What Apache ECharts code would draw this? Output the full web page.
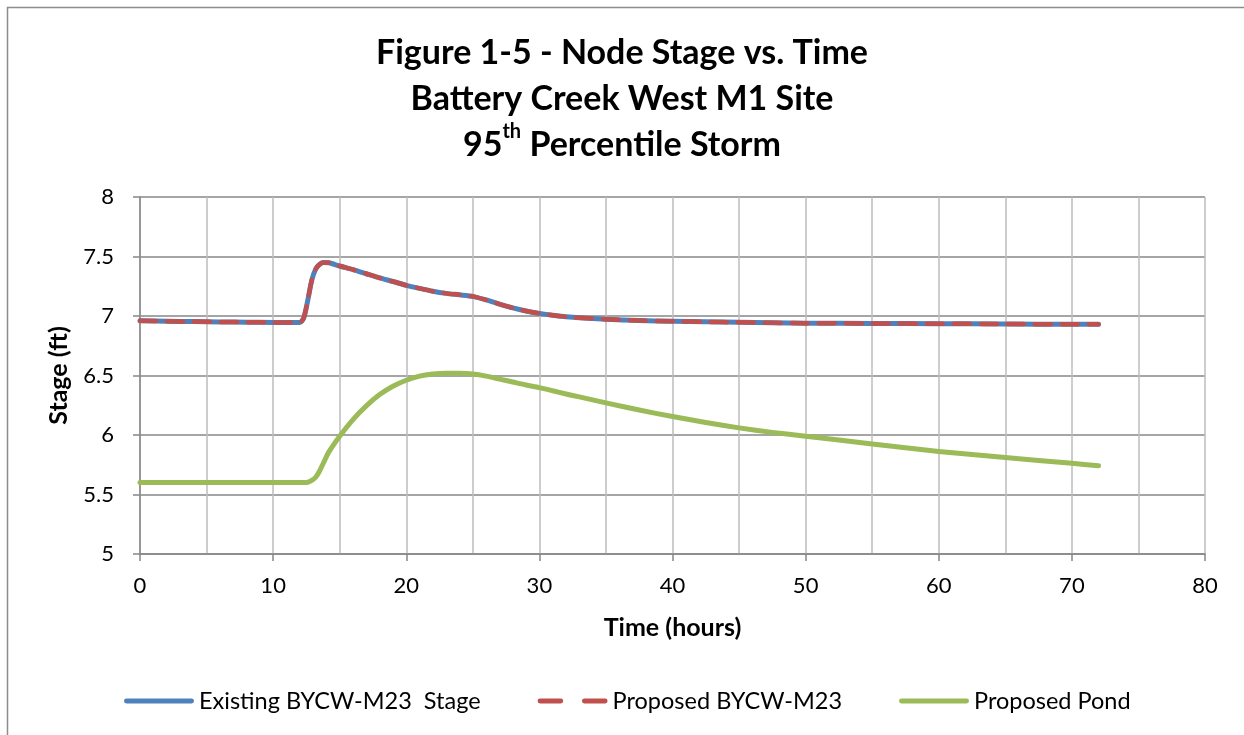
<!DOCTYPE html>
<html>
<head>
<meta charset="utf-8">
<script src="https://cdn.jsdelivr.net/npm/echarts@6/dist/echarts.min.js"></script>
<style>
html,body{margin:0;padding:0;background:#fff;}
#main{width:1244px;height:735px;}
</style>
</head>
<body>
<div id="main"></div>
<script>
// ---- data ----
const timeHours = [0, 2, 4, 6, 8, 10, 11, 12, 12.3, 12.6, 12.9, 13.2, 13.5, 13.8, 14.2, 15, 16, 17, 18, 19, 20, 21, 22, 23, 24, 25, 26, 27, 28, 29, 30, 31, 32, 33, 35, 37.5, 40, 42.5, 45, 47.5, 50, 55, 60, 65, 70, 72];
const existingStage = [6.960, 6.956, 6.953, 6.950, 6.948, 6.946, 6.945, 6.945, 6.985, 7.130, 7.300, 7.395, 7.435, 7.450, 7.447, 7.420, 7.390, 7.355, 7.320, 7.290, 7.258, 7.232, 7.208, 7.190, 7.178, 7.165, 7.135, 7.100, 7.068, 7.042, 7.022, 7.006, 6.994, 6.985, 6.972, 6.962, 6.956, 6.951, 6.947, 6.943, 6.940, 6.937, 6.935, 6.933, 6.930, 6.930];
const proposedStage = [6.960, 6.956, 6.953, 6.950, 6.948, 6.946, 6.945, 6.945, 6.985, 7.130, 7.300, 7.395, 7.435, 7.450, 7.447, 7.420, 7.390, 7.355, 7.320, 7.290, 7.258, 7.232, 7.208, 7.190, 7.178, 7.165, 7.135, 7.100, 7.068, 7.042, 7.022, 7.006, 6.994, 6.985, 6.972, 6.962, 6.956, 6.951, 6.947, 6.943, 6.940, 6.937, 6.935, 6.933, 6.930, 6.930];
const pondStage = [5.600, 5.600, 5.600, 5.600, 5.600, 5.600, 5.600, 5.600, 5.600, 5.603, 5.618, 5.645, 5.700, 5.770, 5.860, 5.990, 6.130, 6.245, 6.340, 6.410, 6.460, 6.495, 6.512, 6.518, 6.518, 6.512, 6.495, 6.470, 6.445, 6.420, 6.398, 6.372, 6.345, 6.320, 6.270, 6.210, 6.155, 6.105, 6.060, 6.022, 5.990, 5.925, 5.862, 5.810, 5.762, 5.742];
const seriesNames = ['Existing BYCW-M23  Stage', 'Proposed BYCW-M23', 'Proposed Pond'];
const titleLines = ['Figure 1-5 - Node Stage vs. Time', 'Battery Creek West M1 Site', '95', 'th', ' Percentile Storm'];

const pairs = (ys) => timeHours.map((t, i) => [t, ys[i]]);
const FONT = 'Lato';
const SOLID_ICON = 'path://M2,0H68A2.5,2.5 0 0 1 68,5H2A2.5,2.5 0 0 1 2,0Z';
const DASH_ICON = 'path://M2,0H23A2.5,2.5 0 0 1 23,5H2A2.5,2.5 0 0 1 2,0Z M47,0H68A2.5,2.5 0 0 1 68,5H47A2.5,2.5 0 0 1 47,0Z';

const chart = echarts.init(document.getElementById('main'));
chart.setOption({
  backgroundColor: '#ffffff',
  animation: false,
  textStyle: { fontFamily: FONT, color: '#000' },
  graphic: [{
    type: 'rect', shape: { x: 7.5, y: 7.5, width: 1400, height: 900 },
    style: { fill: 'none', stroke: '#8c8c8c', lineWidth: 1.5 }, silent: true
  }],
  title: {
    left: 'center', top: 25,
    text: '{a|' + titleLines[0] + '}\n{a|' + titleLines[1] + '}\n{a|' + titleLines[2] + '}{s|' + titleLines[3] + '}{a|' + titleLines[4] + '}',
    textStyle: {
      rich: {
        a: { fontFamily: FONT, fontSize: 34, fontWeight: 'bold', color: '#000', lineHeight: 46 },
        s: { fontFamily: FONT, fontSize: 20, fontWeight: 'bold', color: '#000', lineHeight: 46, verticalAlign: 'top', padding: [0, 0, 14, 0] }
      }
    }
  },
  grid: { left: 140, right: 39, top: 197, bottom: 181, containLabel: false },
  legend: {
    top: 684, left: 119,
    itemWidth: 70, itemHeight: 5, itemGap: 57,
    textStyle: { fontFamily: FONT, fontSize: 23.5, color: '#000', padding: [0, 0, 0, 0] },
    data: [
      { name: seriesNames[0], icon: SOLID_ICON },
      { name: seriesNames[1], icon: DASH_ICON },
      { name: seriesNames[2], icon: SOLID_ICON }
    ]
  },
  xAxis: {
    type: 'value', min: 0, max: 80, interval: 10,
    name: 'Time (hours)', nameLocation: 'middle', nameGap: 61,
    nameTextStyle: { fontFamily: FONT, fontSize: 25, fontWeight: 'bold', color: '#000' },
    axisLine: { show: true, lineStyle: { color: '#868686', width: 1.5 } },
    axisTick: { show: true, length: 7, lineStyle: { color: '#868686', width: 1.5 } },
    axisLabel: { fontFamily: FONT, fontSize: 22, color: '#000', margin: 21 },
    splitLine: { show: true, lineStyle: { color: '#bdbdbd', width: 1.5 } },
    minorTick: { show: false, splitNumber: 2 },
    minorSplitLine: { show: true, lineStyle: { color: '#bdbdbd', width: 1.5 } }
  },
  yAxis: {
    type: 'value', min: 5, max: 8, interval: 0.5,
    name: 'Stage (ft)', nameLocation: 'middle', nameGap: 69, nameRotate: 90,
    nameTextStyle: { fontFamily: FONT, fontSize: 25, fontWeight: 'bold', color: '#000' },
    axisLine: { show: true, lineStyle: { color: '#868686', width: 1.5 } },
    axisTick: { show: true, length: 7, lineStyle: { color: '#868686', width: 1.5 } },
    axisLabel: { fontFamily: FONT, fontSize: 22, color: '#000', margin: 26 },
    splitLine: { show: true, lineStyle: { color: '#878787', width: 1.5 } }
  },
  series: [
    {
      name: seriesNames[0], type: 'line', data: pairs(existingStage),
      symbol: 'none', smooth: 0.25,
      lineStyle: { color: '#4F81BD', width: 5, cap: 'round', join: 'round' },
      itemStyle: { color: '#4F81BD' }
    },
    {
      name: seriesNames[1], type: 'line', data: pairs(proposedStage),
      symbol: 'none', smooth: 0.25,
      lineStyle: { color: '#C0504D', width: 4.5, type: [16, 11], cap: 'round', join: 'round' },
      itemStyle: { color: '#C0504D' }
    },
    {
      name: seriesNames[2], type: 'line', data: pairs(pondStage),
      symbol: 'none', smooth: 0.25,
      lineStyle: { color: '#9BBB59', width: 5, cap: 'round', join: 'round' },
      itemStyle: { color: '#9BBB59' }
    }
  ]
});
</script>
</body>
</html>
